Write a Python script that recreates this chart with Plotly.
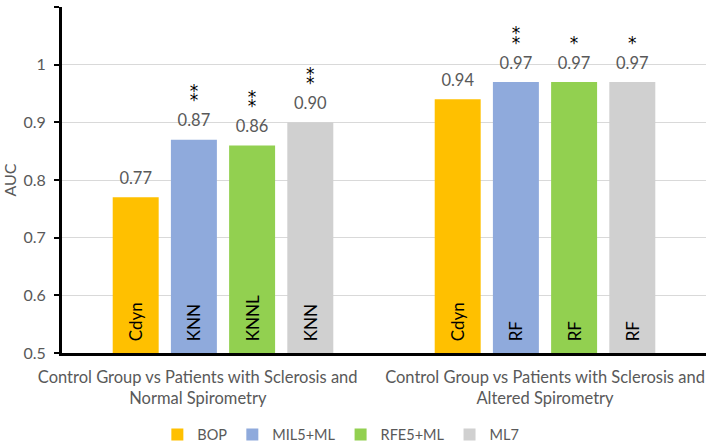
import plotly.graph_objects as go

# ---- data ----
groups = ["Normal Spirometry", "Altered Spirometry"]
group_labels = ["Control Group vs Patients with Sclerosis and<br>Normal Spirometry",
                "Control Group vs Patients with Sclerosis and<br>Altered Spirometry"]
series_names = ["BOP", "MIL5+ML", "RFE5+ML", "ML7"]
bop_auc = [0.77, 0.94]
mil5_auc = [0.87, 0.97]
rfe5_auc = [0.86, 0.97]
ml7_auc = [0.90, 0.97]
bop_models = ["Cdyn", "Cdyn"]
mil5_models = ["KNN", "RF"]
rfe5_models = ["KNNL", "RF"]
ml7_models = ["KNN", "RF"]
bop_stars = [0, 0]
mil5_stars = [2, 2]
rfe5_stars = [2, 1]
ml7_stars = [2, 1]
y_min, y_max = 0.5, 1.1
y_tick_vals = [0.5, 0.6, 0.7, 0.8, 0.9, 1.0, 1.1]
y_tick_text = ["0.5", "0.6", "0.7", "0.8", "0.9", "1", "1.1"]

colors = ["#FFC000", "#8FAADC", "#92D050", "#D0D0D0"]
values = [bop_auc, mil5_auc, rfe5_auc, ml7_auc]
models = [bop_models, mil5_models, rfe5_models, ml7_models]
stars = [bop_stars, mil5_stars, rfe5_stars, ml7_stars]

FONT = "Lato"
STAR_FONT = "DejaVu Sans"
GRAY = "#595959"
NBSP = "\u00a0"

# first category label is set slightly left of its group (as in the original)
pad = NBSP * 12
tick_text = ["<br>".join(line + pad for line in group_labels[0].split("<br>")),
             group_labels[1]]

fig = go.Figure()
for name, col, vals, mods in zip(series_names, colors, values, models):
    fig.add_trace(go.Bar(
        x=groups, y=[v - y_min for v in vals], base=y_min,
        name=name, offsetgroup=name,
        marker=dict(color=col, line=dict(width=0)),
        text=[NBSP * 2 + m for m in mods], textposition="inside",
        insidetextanchor="start", textangle=-90, constraintext="none",
        insidetextfont=dict(family=FONT, size=17, color="black"),
        hoverinfo="skip",
    ))

for name, vals, st in zip(series_names, values, stars):
    # value labels
    fig.add_trace(go.Scatter(
        x=groups, y=vals, mode="markers+text", offsetgroup=name,
        marker=dict(size=13, opacity=0),
        text=[f"{v:.2f}" for v in vals], textposition="top center",
        textfont=dict(family=FONT, size=16.5, color=GRAY),
        showlegend=False, hoverinfo="skip", cliponaxis=False,
    ))
    # lower asterisk
    fig.add_trace(go.Scatter(
        x=groups, y=vals, mode="markers+text", offsetgroup=name,
        marker=dict(size=45, opacity=0),
        text=["*" if s >= 1 else "" for s in st], textposition="top center",
        textfont=dict(family=STAR_FONT, size=17, color="black"),
        showlegend=False, hoverinfo="skip", cliponaxis=False,
    ))
    # upper asterisk
    fig.add_trace(go.Scatter(
        x=groups, y=vals, mode="markers+text", offsetgroup=name,
        marker=dict(size=60, opacity=0),
        text=["*" if s >= 2 else "" for s in st], textposition="top center",
        textfont=dict(family=STAR_FONT, size=17, color="black"),
        showlegend=False, hoverinfo="skip", cliponaxis=False,
    ))

fig.update_layout(
    width=708, height=444,
    margin=dict(l=62, r=2, t=7, b=91, autoexpand=False),
    paper_bgcolor="white", plot_bgcolor="white",
    barmode="group", bargap=0.277, bargroupgap=0.21,
    scattermode="group", scattergap=0.277,
    font=dict(family=FONT, size=16, color=GRAY),
    legend=dict(orientation="h", x=0.433, xanchor="center", y=-0.236,
                yanchor="middle", font=dict(family=FONT, size=14.5, color=GRAY),
                traceorder="normal"),
    xaxis=dict(showline=True, linecolor="black", linewidth=3, ticks="",
               tickvals=groups, ticktext=tick_text, ticklabelstandoff=7,
               tickangle=0,
               tickfont=dict(family=FONT, size=16.5, color=GRAY),
               showgrid=False),
    yaxis=dict(range=[y_min, y_max], tickvals=y_tick_vals, ticktext=y_tick_text,
               showline=True, linecolor="black", linewidth=3,
               ticks="outside", ticklen=5, tickwidth=2, tickcolor="black",
               ticklabelstandoff=5,
               showgrid=True, gridcolor="#D9D9D9", gridwidth=1,
               zeroline=False,
               tickfont=dict(family=FONT, size=16, color=GRAY),
               title=dict(text="AUC", font=dict(family=FONT, size=16, color=GRAY),
                          standoff=10)),
)

fig.write_html("out.html", config={"displayModeBar": False},
               post_script="document.body.style.margin='0px';")
